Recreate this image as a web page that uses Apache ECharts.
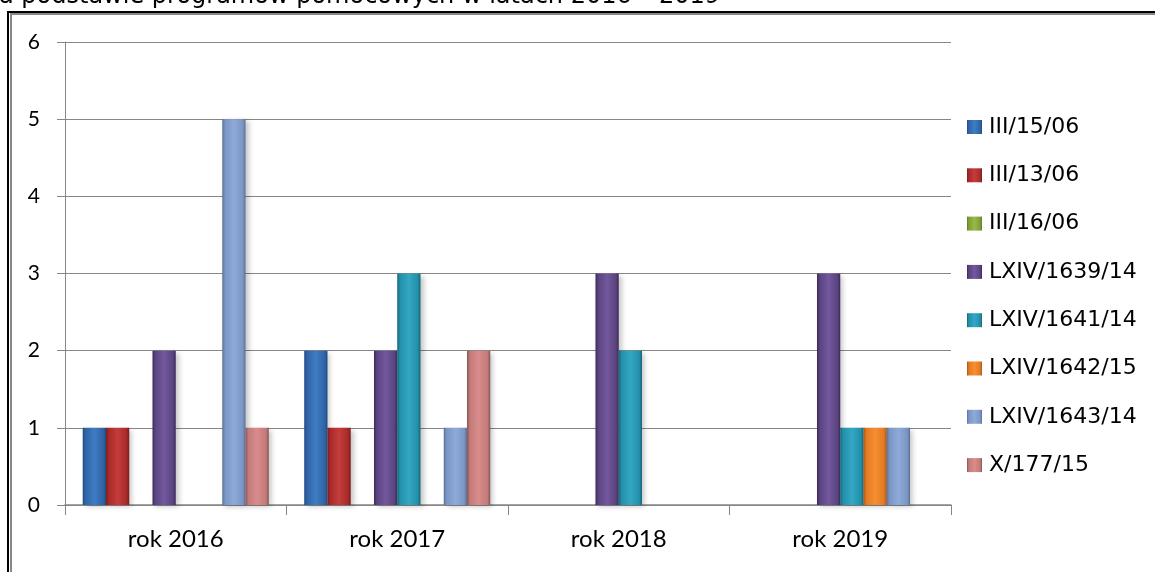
<!DOCTYPE html>
<html>
<head>
<meta charset="utf-8">
<script src="https://cdn.jsdelivr.net/npm/echarts@6/dist/echarts.min.js"></script>
<style>
html,body{margin:0;padding:0;background:#fff;}
#chart{width:1155px;height:572px;}
</style>
</head>
<body>
<div id="chart"></div>
<script>
const categories = ['rok 2016', 'rok 2017', 'rok 2018', 'rok 2019'];
const seriesNames = ['III/15/06', 'III/13/06', 'III/16/06', 'LXIV/1639/14', 'LXIV/1641/14', 'LXIV/1642/15', 'LXIV/1643/14', 'X/177/15'];
const s_III_15_06    = [1, 2, 0, 0];
const s_III_13_06    = [1, 1, 0, 0];
const s_III_16_06    = [0, 0, 0, 0];
const s_LXIV_1639_14 = [2, 2, 3, 3];
const s_LXIV_1641_14 = [0, 3, 2, 1];
const s_LXIV_1642_15 = [0, 0, 0, 1];
const s_LXIV_1643_14 = [5, 1, 0, 1];
const s_X_177_15     = [1, 2, 0, 0];
const yTicks = [0, 1, 2, 3, 4, 5, 6];
const titleText = 'a podstawie programów pomocowych w latach 2016 – 2019';

const seriesData = [s_III_15_06, s_III_13_06, s_III_16_06, s_LXIV_1639_14, s_LXIV_1641_14, s_LXIV_1642_15, s_LXIV_1643_14, s_X_177_15];
// [edge, mid, center]
const palettes = [
  ['#1f4c82', '#2f64a6', '#3f7cc2'],
  ['#7a1c1c', '#a82a2a', '#c53c3b'],
  ['#5d7a25', '#7f9f36', '#98b948'],
  ['#3b2a56', '#5a4480', '#73589d'],
  ['#146577', '#2390aa', '#33a7c3'],
  ['#a85512', '#e07a22', '#f88e32'],
  ['#5a6f98', '#7b96c4', '#8eaad8'],
  ['#8a5252', '#c27a7a', '#d98c8b']
];
function grad(p) {
  return new echarts.graphic.LinearGradient(0, 0, 1, 0, [
    {offset: 0, color: p[0]},
    {offset: 0.12, color: p[1]},
    {offset: 0.5, color: p[2]},
    {offset: 0.88, color: p[1]},
    {offset: 1, color: p[0]}
  ]);
}

const chart = echarts.init(document.getElementById('chart'));
const series = seriesNames.map((name, i) => ({
  name: name,
  type: 'bar',
  data: seriesData[i],
  barGap: '0%',
  barCategoryGap: '16%',
  itemStyle: {
    color: grad(palettes[i]),
    shadowColor: 'rgba(0,0,0,0.22)',
    shadowBlur: 5,
    shadowOffsetX: 3,
    shadowOffsetY: 2
  },
  emphasis: {disabled: true}
}));

chart.setOption({
  animation: false,
  backgroundColor: '#ffffff',
  grid: {left: 65, right: 204, top: 42, bottom: 67},
  legend: {
    orient: 'vertical',
    left: 967,
    top: 116,
    padding: 0,
    icon: 'rect',
    itemWidth: 15,
    itemHeight: 14,
    itemGap: 26.3,
    textStyle: {fontFamily: 'DejaVu Sans', fontSize: 22, color: '#000', lineHeight: 22, padding: [0, 0, 0, 2]},
    data: seriesNames
  },
  xAxis: {
    type: 'category',
    data: categories,
    axisLine: {lineStyle: {color: '#868686', width: 1.5}},
    axisTick: {show: true, length: 10, lineStyle: {color: '#868686'}},
    axisLabel: {fontFamily: 'Lato', fontSize: 24, color: '#000', margin: 22}
  },
  yAxis: {
    type: 'value',
    min: yTicks[0],
    max: yTicks[yTicks.length - 1],
    interval: 1,
    axisLine: {show: true, lineStyle: {color: '#868686'}},
    axisTick: {show: true, length: 8, lineStyle: {color: '#868686'}},
    axisLabel: {fontFamily: 'Lato', fontSize: 21, color: '#000', margin: 25},
    splitLine: {lineStyle: {color: '#868686', width: 1}}
  },
  graphic: [
    {type: 'text', left: -1, top: -15, z: 100, style: {text: titleText, font: '24px "DejaVu Sans"', fill: '#000'}},
    {type: 'line', shape: {x1: 7, y1: 12, x2: 1155, y2: 12}, style: {stroke: '#000', lineWidth: 2}},
    {type: 'line', shape: {x1: 8, y1: 11, x2: 8, y2: 572}, style: {stroke: '#000', lineWidth: 2}},
    {type: 'line', shape: {x1: 10, y1: 14, x2: 1155, y2: 14}, style: {stroke: '#888', lineWidth: 2}},
    {type: 'line', shape: {x1: 11, y1: 13, x2: 11, y2: 572}, style: {stroke: '#888', lineWidth: 2}}
  ],
  series: series
});
</script>
</body>
</html>
